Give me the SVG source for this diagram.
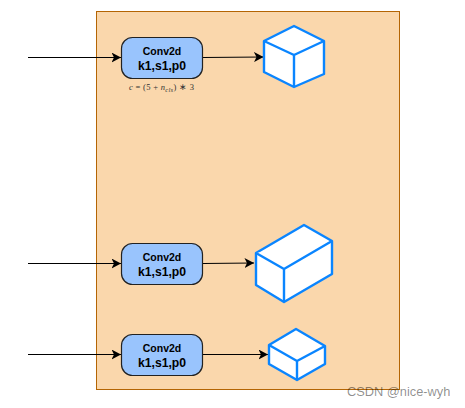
<svg xmlns="http://www.w3.org/2000/svg" width="465" height="408" viewBox="0 0 465 408">
<style>
.box{fill:#99c4fd;stroke:#222;stroke-width:1.2}
.t1{font:bold 10.500px "Liberation Sans",Arial,sans-serif;text-anchor:middle;fill:#000}
.t2{font:bold 12.200px "Liberation Sans",Arial,sans-serif;text-anchor:middle;fill:#000}
.cube{fill:#fff;stroke:#0a85ff;stroke-width:2.4;stroke-linejoin:round}
.line{fill:none;stroke:#000;stroke-width:1.2;marker-end:url(#a)}
.i{font-style:italic}
</style>
<defs><marker id="a" markerUnits="userSpaceOnUse" markerWidth="11" markerHeight="10" refX="9.500" refY="5" orient="auto"><path d="M0 0L9.500 5L0 10L2.500 5Z" fill="#000"/></marker></defs>
<rect id="container" x="96.500" y="11.500" width="303" height="378" fill="#fad7ac" stroke="#b46504" stroke-width="1"/>
<g id="connectors">
<path class="line" d="M28 57.500H121"/>
<path class="line" d="M28 263.500H121"/>
<path class="line" d="M28 354.500H121"/>
<path class="line" d="M203 57.500L263.500 57"/>
<path class="line" d="M203 263.500L254 263"/>
<path class="line" d="M203 354.500H268"/>
</g>
<g id="node1"><rect class="box" x="121.500" y="37.500" width="81" height="41" rx="11"/><text class="t1" x="162" y="55">Conv2d</text><text class="t2" x="162" y="69.500">k1,s1,p0</text></g>
<g id="node2"><rect class="box" x="121.500" y="243.500" width="81" height="41" rx="11"/><text class="t1" x="162" y="261">Conv2d</text><text class="t2" x="162" y="275.500">k1,s1,p0</text></g>
<g id="node3"><rect class="box" x="121.500" y="334.500" width="81" height="41" rx="11"/><text class="t1" x="162" y="352">Conv2d</text><text class="t2" x="162" y="366.500">k1,s1,p0</text></g>
<g id="formula"><text x="129" y="90" font-family="'Liberation Serif',serif" font-size="8.500" fill="#333" textLength="65"><tspan class="i">c</tspan> = (5 + <tspan class="i">n</tspan><tspan class="i" font-size="6.500" dy="1.500">cls</tspan><tspan dy="-1.500">) ∗ 3</tspan></text></g>
<g id="cube1"><path class="cube" d="M294 26L324 41V74L294 87L264 72V41Z"/><path class="cube" fill="none" d="M264 41L294 55L324 41M294 55V87"/></g>
<g id="cube2"><path class="cube" d="M304 225L332 241V274L284 302L256 285V253Z"/><path class="cube" d="M256 253L284 269L332 241M284 269V302"/></g>
<g id="cube3"><path class="cube" d="M296 329L325 346V364L297 380L269 364V345Z"/><path class="cube" d="M269 345L297 361L325 346M297 361V380"/></g>
<text id="watermark" x="347" y="396" font-family="'Liberation Sans',Arial,sans-serif" font-size="12.800" fill="#000" fill-opacity=".45">CSDN @nice-wyh</text>
</svg>
